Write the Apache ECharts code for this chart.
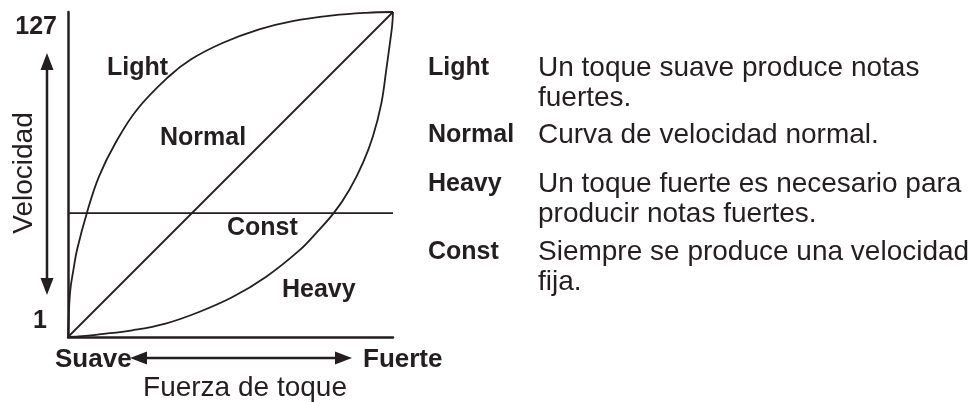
<!DOCTYPE html>
<html>
<head>
<meta charset="utf-8">
<script src="https://cdn.jsdelivr.net/npm/echarts@6/dist/echarts.min.js"></script>
<style>
  html, body { margin: 0; padding: 0; background: #fff; }
  #chart { width: 970px; height: 402px; }
</style>
</head>
<body>
<div id="chart"></div>
<script>
// curve samples (touch strength -> velocity, both 1..127)
var lightTouch = [1, 1.25, 1.9, 3.1, 4.5, 8.4, 13.0, 19.4, 27.8, 40.2, 48.6, 60.9, 75.1, 88.1, 103.7, 116.7, 127];
var lightVel   = [1, 8.6, 19.3, 27.0, 34.8, 49.4, 63.2, 76.2, 89.2, 102.1, 108.6, 115.0, 120.3, 123.5, 125.7, 126.7, 127];
var heavyTouch = [1, 6.5, 13.0, 25.9, 38.8, 51.8, 64.8, 77.7, 90.7, 97.1, 104.3, 110.1, 115.3, 119.2, 122.5, 124.4, 126.0, 126.7, 127];
var heavyVel   = [1, 1.3, 2.0, 3.6, 6.2, 10.7, 16.5, 24.3, 34.6, 41.2, 49.4, 58.1, 68.4, 78.7, 91.7, 104.7, 116.4, 122.0, 127];
var normalTouch = [1, 127];
var normalVel   = [1, 127];
var constTouch = [1, 127];
var constVel   = [49, 49];

var yTicks = ["127", "1"];
var curveNames = ["Light", "Normal", "Heavy", "Const"];
var curveNotes = [
  "Un toque suave produce notas\nfuertes.",
  "Curva de velocidad normal.",
  "Un toque fuerte es necesario para\nproducir notas fuertes.",
  "Siempre se produce una velocidad\nfija."
];

function pairs(xs, ys) {
  return xs.map(function (x, i) { return [x, ys[i]]; });
}

var FONT = '"Liberation Sans", Arial, Helvetica, sans-serif';
var black = "#231f20";

function txt(x, y, text, opt) {
  opt = opt || {};
  return {
    type: "text",
    x: x,
    y: y,
    rotation: opt.rotation || 0,
    style: {
      text: text,
      fill: black,
      font: (opt.bold ? "bold " : "") + (opt.size || 28) + "px " + FONT,
      align: opt.align || "left",
      textAlign: opt.align || "left",
      verticalAlign: opt.va || "middle",
      textVerticalAlign: opt.va || "middle",
      lineHeight: opt.lh || 30
    }
  };
}

function arrowHead(tipX, tipY, dir) {
  var L = 17, W = 6.5, pts;
  if (dir === "up") pts = [[tipX, tipY], [tipX - W, tipY + L], [tipX + W, tipY + L]];
  if (dir === "down") pts = [[tipX, tipY], [tipX - W, tipY - L], [tipX + W, tipY - L]];
  if (dir === "left") pts = [[tipX, tipY], [tipX + L, tipY - W], [tipX + L, tipY + W]];
  if (dir === "right") pts = [[tipX, tipY], [tipX - L, tipY - W], [tipX - L, tipY + W]];
  return { type: "polygon", shape: { points: pts }, style: { fill: black } };
}

var graphics = [
  // y axis end labels
  txt(57, 27, yTicks[0], { bold: true, size: 25, align: "right" }),
  txt(47, 321, yTicks[1], { bold: true, size: 25, align: "right" }),
  // Velocidad arrow
  { type: "line", shape: { x1: 47, y1: 65, x2: 47, y2: 283 }, style: { stroke: black, lineWidth: 2.5 } },
  arrowHead(47, 53, "up"),
  arrowHead(47, 295, "down"),
  txt(24, 173, "Velocidad", { rotation: Math.PI / 2, align: "center" }),
  // Fuerza arrow
  { type: "line", shape: { x1: 142, y1: 358, x2: 340, y2: 358 }, style: { stroke: black, lineWidth: 2.5 } },
  arrowHead(130, 358, "left"),
  arrowHead(352, 358, "right"),
  txt(55, 360, "Suave", { bold: true, size: 26 }),
  txt(363, 360, "Fuerte", { bold: true, size: 26 }),
  txt(245, 388, "Fuerza de toque", { align: "center" }),
  // curve labels inside the plot
  txt(107, 68, "Light", { bold: true, size: 25 }),
  txt(160, 138, "Normal", { bold: true, size: 25 }),
  txt(227, 228, "Const", { bold: true, size: 25 }),
  txt(282, 290, "Heavy", { bold: true, size: 25 })
];

// description list on the right
var rowTops = [53, 120, 169, 237];
curveNames.forEach(function (name, i) {
  graphics.push(txt(428, rowTops[i], name, { bold: true, size: 25, va: "top" }));
  graphics.push(txt(538, rowTops[i], curveNotes[i], { va: "top" }));
});

function curve(name, data, smooth) {
  return {
    name: name,
    type: "line",
    data: data,
    smooth: smooth,
    showSymbol: false,
    symbol: "none",
    lineStyle: { color: black, width: 1.8 },
    silent: true
  };
}

var chart = echarts.init(document.getElementById("chart"), null, { renderer: "canvas" });
chart.setOption({
  animation: false,
  grid: { left: 68, top: 12, width: 325, height: 325, containLabel: false },
  xAxis: {
    type: "value", min: 1, max: 127,
    axisLine: { lineStyle: { color: black, width: 2.5 } },
    axisTick: { show: false }, axisLabel: { show: false }, splitLine: { show: false }
  },
  yAxis: {
    type: "value", min: 1, max: 127,
    axisLine: { show: true, lineStyle: { color: black, width: 2.5 } },
    axisTick: { show: false }, axisLabel: { show: false }, splitLine: { show: false }
  },
  series: [
    curve("Light", pairs(lightTouch, lightVel), 0.4),
    curve("Heavy", pairs(heavyTouch, heavyVel), 0.4),
    curve("Normal", pairs(normalTouch, normalVel), false),
    curve("Const", pairs(constTouch, constVel), false)
  ],
  graphic: graphics
});
</script>
</body>
</html>
